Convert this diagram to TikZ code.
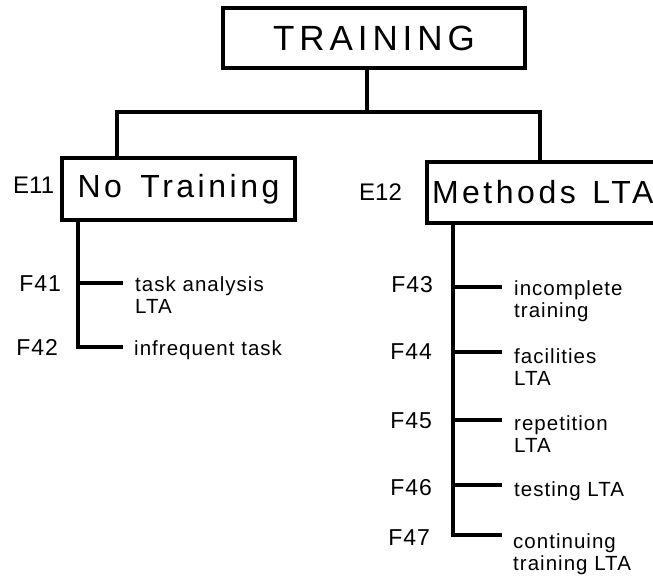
\documentclass[tikz,border=0pt]{standalone}
\usepackage{fontspec}
\setmainfont{Liberation Sans}
\begin{document}
\begin{tikzpicture}[x=1pt,y=-1pt,
  boxline/.style={draw=black,line width=4pt,inner sep=0pt},
  conn/.style={line width=4.5pt,line cap=butt,line join=miter},
  bigtxt/.style={font={\fontsize{35}{40}\selectfont\addfontfeature{LetterSpace=14}}},
  midtxt/.style={font={\fontsize{32}{36}\selectfont\addfontfeature{LetterSpace=11}}},
  elab/.style={font={\fontsize{24}{26}\selectfont},anchor=base west,inner sep=0pt},
  flab/.style={font={\fontsize{23}{26}\selectfont\addfontfeature{LetterSpace=4}},anchor=base east,inner sep=0pt},
  item/.style={font={\fontsize{20.5}{22}\selectfont\addfontfeature{LetterSpace=5}},anchor=base west,inner sep=0pt,align=left}]
\path[use as bounding box,fill=white] (0,0) rectangle (653,582);

% boxes
\node[boxline,bigtxt,minimum width=302pt,minimum height=60pt] (train) at (374,38) {TRAINING};
\node[boxline,midtxt,minimum width=233pt,minimum height=62pt] (notr) at (178.5,189) {No\hspace{6pt} Training};
\node[boxline,midtxt,anchor=west,text width=230pt,inner xsep=5pt,minimum height=61pt,align=left] (meth) at (425,192.5) {Methods\hspace{6pt} LTA};

\node[elab] (e11) at (13,193) {E11};
\node[elab] (e12) at (359,200) {E12};

% junction coordinates
\coordinate (bl) at (117,112);
\coordinate (br) at (540,112);
\coordinate (bm) at (367,112);

\draw[conn] (train.south -| bm) -- (bm);
\draw[conn] (notr.north -| bl) -- (bl) -- (br) -- (meth.north -| br);

% left branch
\coordinate (v41) at (78,283);
\coordinate (v42) at (78,347);
\coordinate (b41) at (123,283);
\coordinate (b42) at (123,347);
\draw[conn] (notr.south -| v41) -- (v42) -- (b42);
\draw[conn] (v41) -- (b41);
\node[flab] (f41) at (61,291) {F41};
\node[flab] (f42) at (58,355) {F42};
% two-line items: anchored at the baseline of the last line
\node[item] (t41) at (135,313) {task analysis\\LTA};
\node[item] (t42) at (134,355) {infrequent task};

% right branch
\coordinate (v43) at (453,287);
\coordinate (v44) at (453,352);
\coordinate (v45) at (453,420);
\coordinate (v46) at (453,485);
\coordinate (v47) at (453,535);
\coordinate (b43) at (502,287);
\coordinate (b44) at (502,352);
\coordinate (b45) at (502,420);
\coordinate (b46) at (502,485);
\coordinate (b47) at (502,535);
\draw[conn] (meth.south -| v43) -- (v47) -- (b47);
\foreach \k in {43,44,45,46} \draw[conn] (v\k) -- (b\k);
\node[flab] (f43) at (433,292) {F43};
\node[flab] (f44) at (432,359) {F44};
\node[flab] (f45) at (432,428) {F45};
\node[flab] (f46) at (432,495) {F46};
\node[flab] (f47) at (430,545) {F47};
\node[item] (t43) at (514,317) {incomplete\\training};
\node[item] (t44) at (514,385) {facilities\\LTA};
\node[item] (t45) at (514,452) {repetition\\LTA};
\node[item] (t46) at (514,496) {testing LTA};
\node[item] (t47) at (513,570) {continuing\\training LTA};
\end{tikzpicture}
\end{document}
